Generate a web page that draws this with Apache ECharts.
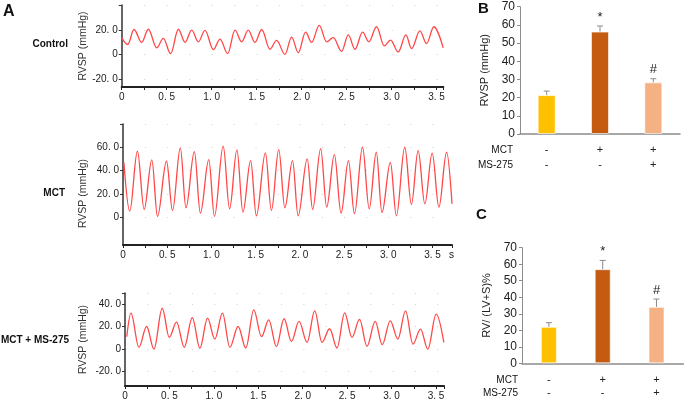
<!DOCTYPE html>
<html>
<head>
<meta charset="utf-8">
<script src="https://cdn.jsdelivr.net/npm/echarts@6/dist/echarts.min.js"></script>
<style>
    html, body { margin: 0; padding: 0; background: #fff; }
    #chart { width: 685px; height: 401px; }
</style>
</head>
<body>
<div id="chart"></div>
<script>
// pressure traces: [time (s), RVSP (mmHg)] at each turning point
var controlTrace = [
    [0, 13.7], [0.067, 8.2], [0.137, 20.3], [0.222, 9.9], [0.296, 20.5], [0.389, 5.5],
    [0.463, 13.2], [0.544, 0.8], [0.63, 20.5], [0.704, 9.9], [0.778, 19.7], [0.852, 10.4],
    [0.926, 19.5], [1.019, 4.1], [1.093, 12.6], [1.178, 0.8], [1.259, 19.7], [1.333, 10.4],
    [1.407, 19.7], [1.481, 9.9], [1.556, 20.3], [1.648, 4.4], [1.722, 11.5], [1.815, 0.3],
    [1.889, 14.2], [1.963, 1.6], [2.044, 18.1], [2.111, 9.9], [2.196, 23.6], [2.278, 10.4],
    [2.352, 13.7], [2.444, 2.7], [2.519, 15.9], [2.593, 4.4], [2.678, 18.1], [2.748, 10.4],
    [2.833, 22.5], [2.919, 7.1], [2.989, 11.8], [3.074, 2.2], [3.159, 15.9], [3.222, 4.9],
    [3.315, 19.2], [3.389, 9.0], [3.47, 22.5], [3.574, 5.5]
];
var mctTrace = [
    [0.01, 47], [0.076, 5.1], [0.163, 56.6], [0.239, 6.6], [0.326, 49.1], [0.39, 0.6],
    [0.492, 48], [0.56, 5.7], [0.648, 59.4], [0.712, 8], [0.807, 56.3], [0.875, 3.4],
    [0.97, 49.4], [1.034, 0.6], [1.133, 60.9], [1.205, 7.1], [1.288, 57.7], [1.356, 4.3],
    [1.443, 48.6], [1.508, 1.1], [1.61, 55.1], [1.678, 5.7], [1.761, 58], [1.83, 8],
    [1.917, 48.6], [1.98, 1.1], [2.083, 50], [2.144, 6.6], [2.235, 58.9], [2.303, 8.6],
    [2.39, 53.7], [2.466, 3.4], [2.549, 48.6], [2.617, 2.9], [2.708, 60], [2.784, 7.1],
    [2.864, 55.7], [2.928, 4], [3.023, 47.1], [3.091, 1.1], [3.186, 60], [3.261, 10.9],
    [3.337, 57.1], [3.413, 11.4], [3.496, 54.9], [3.572, 8.6], [3.659, 55.7], [3.72, 11.4]
];
var msTrace = [
    [0.02, 11], [0.067, 32], [0.157, 1.5], [0.243, 20.1], [0.326, 0], [0.419, 36.4],
    [0.498, 10.4], [0.58, 24], [0.667, 1.5], [0.757, 28.1], [0.843, 0.9], [0.929, 27.6],
    [1.011, 8.9], [1.097, 32], [1.18, 1.5], [1.273, 20.1], [1.36, 0.9], [1.449, 35],
    [1.536, 11], [1.618, 26.1], [1.704, 2.1], [1.79, 27], [1.873, 6.8], [1.959, 24.6],
    [2.049, 5.9], [2.135, 34.1], [2.217, 5.9], [2.303, 18.1], [2.386, 0.9], [2.472, 32.3],
    [2.554, 10.4], [2.64, 26.4], [2.723, 2.4], [2.816, 24.6], [2.895, 3.9], [2.985, 25.2],
    [3.071, 8.9], [3.157, 34.1], [3.24, 4.4], [3.326, 17.8], [3.408, 0], [3.502, 31.1],
    [3.588, 5.9]
];

// bar panels
var groups = ['Control', 'MCT', 'MCT + MS-275'];
var mctSigns = ['-', '+', '+'];
var msSigns = ['-', '-', '+'];
var rvspMean = [21.4, 56.3, 28.4];
var rvspErr = [2.2, 3.1, 2.0];
var rvhMean = [22.1, 57.0, 34.2];
var rvhErr = [2.5, 5.3, 4.7];
var sigMarks = ['', '*', '#'];

var myChart = echarts.init(document.getElementById('chart'));

var traceFont = { fontFamily: 'Liberation Sans', fontSize: 10, color: '#222' };

function fmtTick(v) {
    if (v === 0) return '0';
    return v.toFixed(1).replace('.', '. ');
}

function traceX(grid, max) {
    return {
        type: 'value', gridIndex: grid, min: 0, max: max, interval: 0.5,
        axisLine: { onZero: false, lineStyle: { color: '#222', width: 2 } },
        axisTick: { length: 3, lineStyle: { color: '#222' } },
        minorTick: { show: true, splitNumber: 2, length: 3, lineStyle: { color: '#222' } },
        axisLabel: Object.assign({ margin: 5, showMaxLabel: false, formatter: fmtTick }, traceFont),
        splitLine: { show: false }
    };
}

function traceY(grid, min, max, labels, gap, shift, dotGap) {
    return {
        type: 'value', gridIndex: grid, min: min, max: max,
        name: 'RVSP (mmHg)', nameLocation: 'middle', nameGap: gap,
        nameTextStyle: { fontFamily: 'Liberation Sans', fontSize: 10.5, color: '#333', padding: shift },
        axisLine: { show: true, lineStyle: { color: '#333', width: 1.5 } },
        axisTick: { show: true, length: 3, customValues: labels.concat([max]), lineStyle: { color: '#333' } },
        axisLabel: Object.assign({ margin: 4, customValues: labels, formatter: fmtTick }, traceFont),
        splitLine: { show: true, lineStyle: { color: '#d0d0d0', width: 1, type: [1, dotGap] } }
    };
}

function traceSeries(idx, data) {
    return {
        type: 'line', xAxisIndex: idx, yAxisIndex: idx, data: data,
        showSymbol: false, smooth: 0.36, smoothMonotone: 'x',
        lineStyle: { color: '#ff4747', width: 1.3 },
        silent: true
    };
}

function barX(grid, margin, lh) {
    return {
        type: 'category', gridIndex: grid, data: groups, boundaryGap: true,
        axisLine: { lineStyle: { color: '#8c8c8c', width: 1.5 } },
        axisTick: { show: false },
        axisLabel: {
            margin: margin, lineHeight: lh, fontFamily: 'Liberation Sans', fontSize: 11, color: '#222',
            formatter: function (v, i) { return mctSigns[i] + '\n' + msSigns[i]; }
        }
    };
}

function barY(grid, name, gap, fs) {
    return {
        type: 'value', gridIndex: grid, min: 0, max: 70, interval: 10,
        name: name, nameLocation: 'middle', nameGap: gap,
        nameTextStyle: { fontFamily: 'Liberation Sans', fontSize: 11, color: '#222' },
        axisLine: { show: true, lineStyle: { color: '#8c8c8c', width: 1 } },
        axisTick: { show: true, length: 3, lineStyle: { color: '#8c8c8c' } },
        axisLabel: { margin: 5, fontFamily: 'Liberation Sans', fontSize: fs, color: '#222' },
        splitLine: { show: false }
    };
}

var barColors = ['#ffc000', '#c55a11', '#f4b183'];

function barSeries(idx, means, width) {
    return {
        type: 'bar', xAxisIndex: idx, yAxisIndex: idx, barWidth: width,
        data: means.map(function (m, i) {
            return { value: m, itemStyle: { color: barColors[i], borderColor: 'rgba(255,255,255,0.6)', borderWidth: 1 } };
        })
    };
}

function errSeries(idx, means, errs) {
    return {
        type: 'custom', xAxisIndex: idx, yAxisIndex: idx, z: 5, silent: true,
        data: means.map(function (m, i) { return [i, m, errs[i]]; }),
        renderItem: function (params, api) {
            var base = api.coord([api.value(0), api.value(1)]);
            var top = api.coord([api.value(0), api.value(1) + api.value(2)]);
            var kids = [
                { type: 'line', shape: { x1: base[0], y1: base[1], x2: top[0], y2: top[1] },
                  style: { stroke: '#8c8c8c', lineWidth: 1 } },
                { type: 'line', shape: { x1: top[0] - 3, y1: top[1], x2: top[0] + 3, y2: top[1] },
                  style: { stroke: '#8c8c8c', lineWidth: 1 } }
            ];
            var mark = sigMarks[params.dataIndex];
            if (mark) {
                kids.push({ type: 'text', x: top[0], y: top[1] - 9,
                    style: { text: mark, align: 'center', verticalAlign: 'middle',
                             fontFamily: 'Liberation Sans', fontSize: 13, fill: '#222' } });
            }
            return { type: 'group', children: kids };
        }
    };
}

function label(x, y, text, size, bold, align) {
    return {
        type: 'text', x: x, y: y, silent: true,
        style: { text: text, fontFamily: 'Liberation Sans', fontSize: size,
                 fontWeight: bold ? 'bold' : 'normal', fill: '#111',
                 align: align || 'left', verticalAlign: 'middle' }
    };
}

let option = {
    animation: false,
    grid: [
        { left: 121.7, top: 5, width: 321.6, height: 82 },
        { left: 123, top: 124, width: 329, height: 121 },
        { left: 125, top: 293, width: 319, height: 94 },
        { left: 520, top: 6.7, width: 160, height: 127.3 },
        { left: 522, top: 247.7, width: 161.4, height: 115.6 }
    ],
    xAxis: [
        traceX(0, 3.575),
        traceX(1, 3.72),
        traceX(2, 3.59),
        barX(3, 8.5, 15),
        barX(4, 10, 13.3)
    ],
    yAxis: [
        traceY(0, -26, 40, [-20, 0, 20], 31.7, [0, 0, 0, 0], 21.5),
        traceY(1, -24, 80, [0, 20, 40, 60], 34, [0, 18, 0, 0], 21.1),
        traceY(2, -33, 50, [-20, 0, 20, 40], 36, [0, 0, 0, 0], 21.3),
        barY(3, 'RVSP (mmHg)', 30, 12),
        barY(4, 'RV/ (LV+S)%', 30, 12)
    ],
    series: [
        traceSeries(0, controlTrace),
        traceSeries(1, mctTrace),
        traceSeries(2, msTrace),
        barSeries(3, rvspMean, 18),
        errSeries(3, rvspMean, rvspErr),
        barSeries(4, rvhMean, 16),
        errSeries(4, rvhMean, rvhErr)
    ],
    graphic: [
        label(3, 12, 'A', 16, true),
        label(478, 9, 'B', 15, true),
        label(476, 215, 'C', 15, true),
        label(68, 44, 'Control', 10, true, 'right'),
        label(65, 193, 'MCT', 10, true, 'right'),
        label(69, 340, 'MCT + MS-275', 10, true, 'right'),
        label(449, 255, 's', 10, false),
        label(513, 150, 'MCT', 10, false, 'right'),
        label(513, 165, 'MS-275', 10, false, 'right'),
        label(518, 380, 'MCT', 10, false, 'right'),
        label(518, 393, 'MS-275', 10, false, 'right')
    ]
};
myChart.setOption(option);
window.addEventListener('resize', () => {
    myChart.resize();
});
</script>
</body>
</html>
